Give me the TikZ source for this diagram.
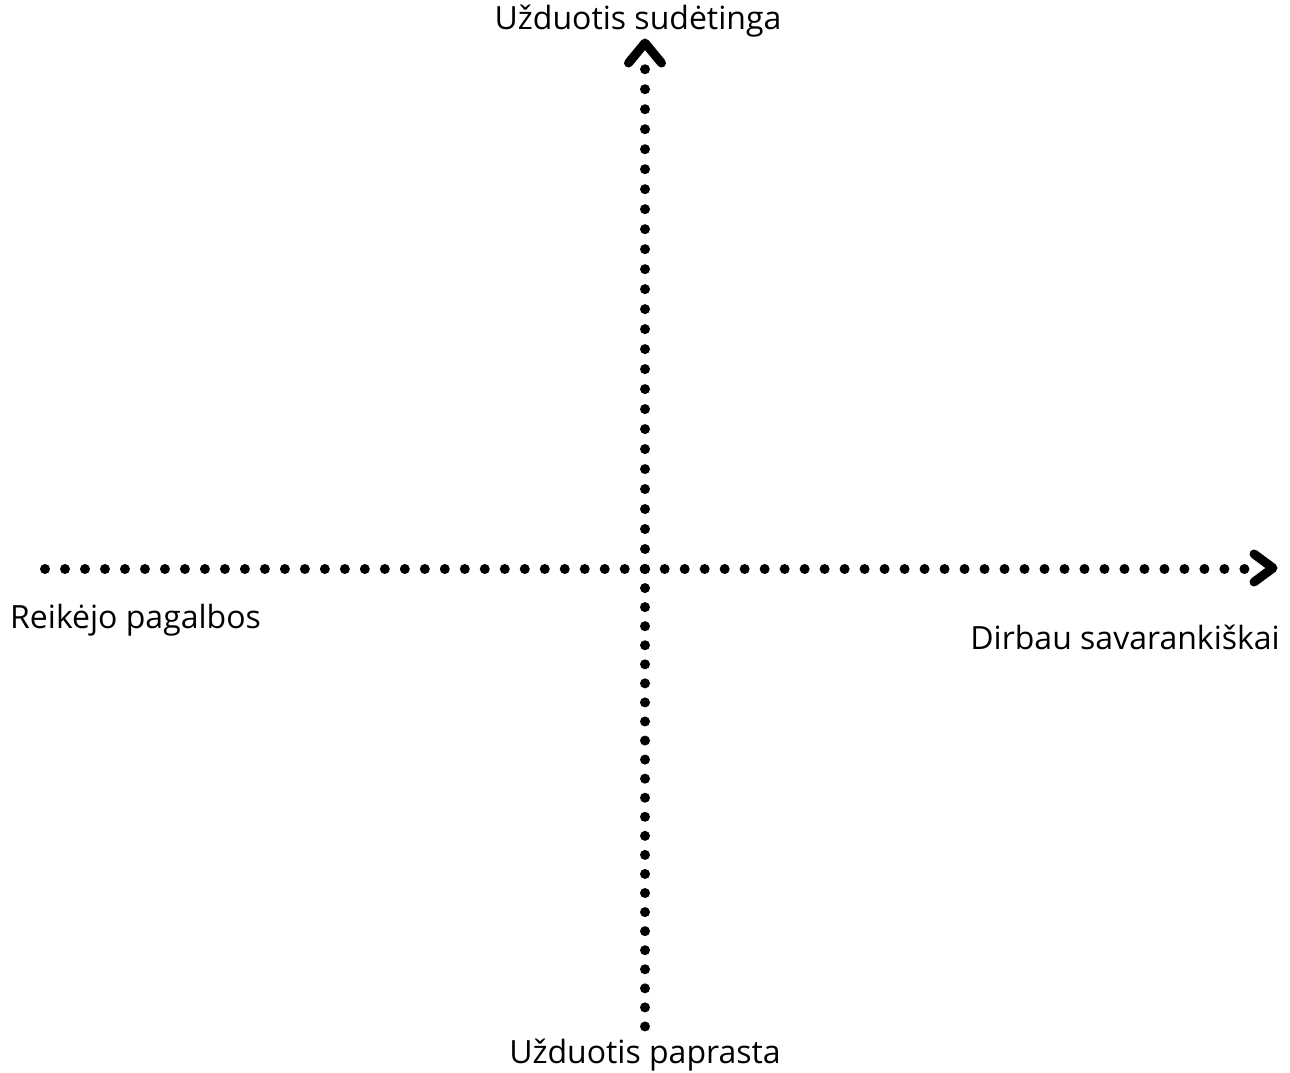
\documentclass[tikz,border=0pt]{standalone}
\usepackage{fontspec}
\setmainfont{Open Sans}
\begin{document}
\begin{tikzpicture}[x=1pt,y=-1pt,
  dotline/.style={line width=10pt,line cap=round,dash pattern=on 0pt off 19.99pt},
  chev/.style={line width=9pt,line cap=round,line join=round},
  lbl/.style={font=\fontsize{32}{38}\selectfont,inner sep=0pt}]
\useasboundingbox (0,0) rectangle (1290,1073);
\coordinate (top) at (645,67);
\coordinate (bot) at (645,1027);
\coordinate (left) at (45,569);
\coordinate (right) at (1245,569);
\coordinate (ctr) at (645,569);
\draw[dotline] (ctr) -- (top);
\draw[dotline,dash pattern=on 0pt off 19.06pt] (ctr) -- (bot);
\draw[dotline] (left) -- (right);
% arrowheads
\coordinate (ttip) at (645,43);
\draw[chev] ([shift={(-16.5,20)}]ttip) -- (ttip) -- ([shift={(16.5,20)}]ttip);
\coordinate (rtip) at (1273,568);
\draw[chev] ([shift={(-19,-14)}]rtip) -- (rtip) -- ([shift={(-19,14)}]rtip);
\node[lbl,anchor=base] (ts) at (638,30) {Užduotis sudėtinga};
\node[lbl,anchor=base] (bs) at (645,1063) {Užduotis paprasta};
\node[lbl,anchor=base west] (ls) at (10,628) {Reikėjo pagalbos};
\node[lbl,anchor=base east] (rs) at (1280,649) {Dirbau savarankiškai};
\end{tikzpicture}
\end{document}
